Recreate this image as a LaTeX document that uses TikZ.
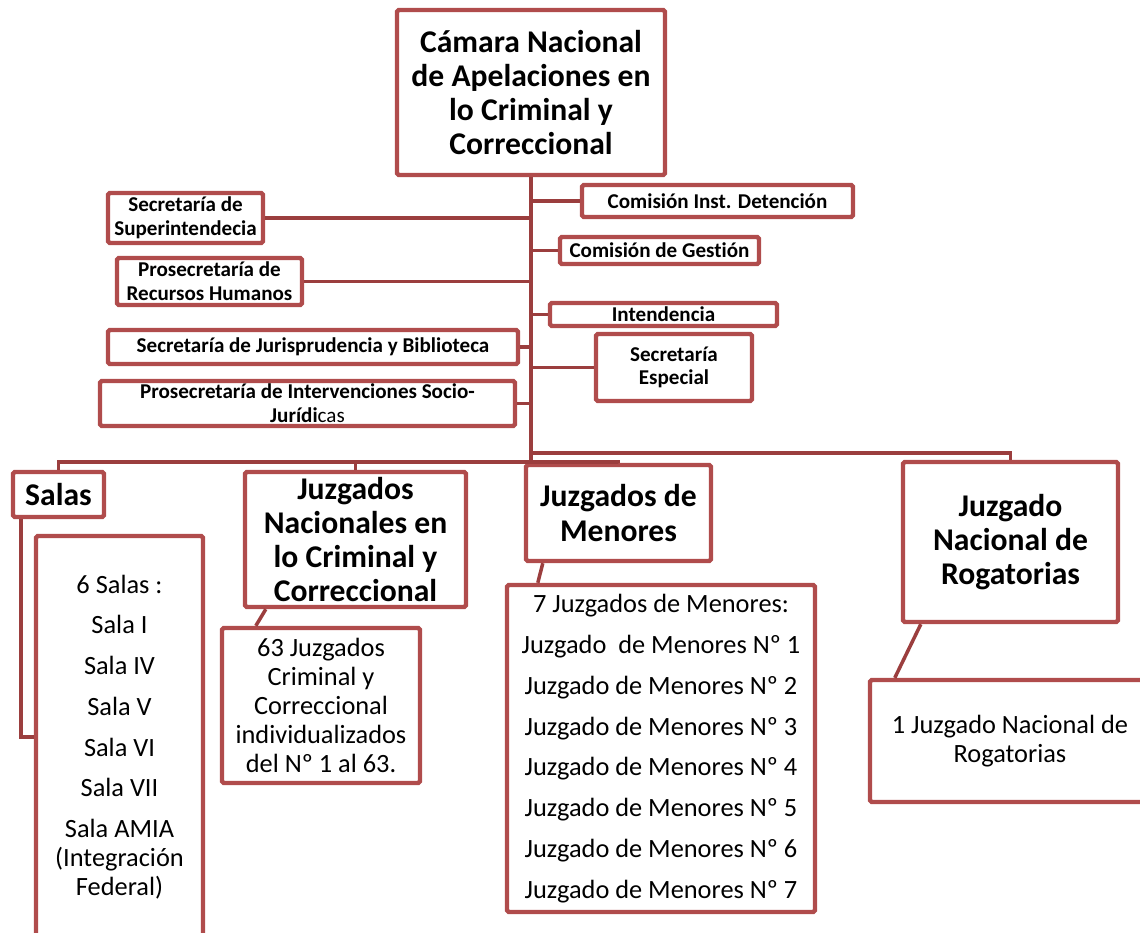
\documentclass[tikz,border=0pt]{standalone}
\usepackage{fontspec}
\setmainfont[Ligatures=NoCommon]{Carlito}
\definecolor{rojocaja}{RGB}{176,76,76}
\definecolor{rojolinea}{RGB}{155,62,62}
\newlength\pxu
\setlength\pxu{0.02cm}

\begin{document}
\begin{tikzpicture}[x=0.02cm, y=-0.02cm,
  caja/.style 2 args={draw=rojocaja, line width=2.5pt, rounded corners=1pt, fill=white, align=center, inner sep=0pt, minimum width=#1\pxu, minimum height=#2\pxu},
  linea/.style={draw=rojolinea, line width=2pt},
  grande/.style={font=\fontsize{18}{19.5}\selectfont\bfseries},
  chica/.style={font=\fontsize{12}{13.5}\selectfont\bfseries},
  lista/.style={font=\fontsize{15}{16.5}\selectfont}]
\useasboundingbox (0,0) rectangle (1140,933);

%\draw [lightgray](0,0) grid[step=100] (1140,933);
\node [caja={268}{165}, grande] (camara) at (531, 92.5){Cámara Nacional\\de Apelaciones en\\lo Criminal y\\Correccional};

% izquierda
\node [caja={155}{50}, chica] (superint) at (185.5, 218){Secretaría de\\Superintendecia};
\node [caja={185}{47}, chica] (rrhh) at (209.5, 281.5){Prosecretaría de\\Recursos Humanos};
\node [caja={410}{34}, chica] (juris) at (313, 347){Secretaría de Jurisprudencia y Biblioteca};
\node [caja={415}{45}, chica] (socio) at (307.5, 403.5){Prosecretaría de Intervenciones Socio-\\Jurídi{\mdseries cas}};

% derecha
\node [caja={271}{32}, chica] (detencion) at (717.5, 201){Comisión Inst. Detención};
\node [caja={199}{27}, chica] (gestion) at (659.5, 250.5){Comisión de Gestión};
\node [caja={227}{23}, chica] (intend) at (663.5, 314.5){Intendencia};
\node [caja={156}{67}, chica] (especial) at (674, 367.5){Secretaría\\Especial};

% abajo
\node [caja={91}{45}, grande] (salas) at (58.5, 494.5){Salas};
\node [caja={167}{402}, lista] (salaslist) at (119.5, 737){6 Salas :\\[6.7pt]Sala I\\[6.7pt]Sala IV\\[6.7pt]Sala V\\[6.7pt]Sala VI\\[6.7pt]Sala VII\\[6.7pt]Sala AMIA\\(Integración\\Federal)};
\node [caja={221}{135}, grande] (juznac) at (355.5, 539.5){Juzgados\\Nacionales en\\lo Criminal y\\Correccional};
\node [caja={198}{155}, lista] (juznaclist) at (321, 705.5){63 Juzgados\\Criminal y\\Correccional\\individualizados\\del Nº 1 al 63.};
\node [caja={185}{96}, grande] (menores) at (618.5, 513){Juzgados de\\Menores};
\node [caja={308}{327}, lista] (menlist) at (661, 748.5){7 Juzgados de Menores:\\[6.7pt]Juzgado\ \ de Menores Nº 1\\[6.7pt]Juzgado de Menores Nº 2\\[6.7pt]Juzgado de Menores Nº 3\\[6.7pt]Juzgado de Menores Nº 4\\[6.7pt]Juzgado de Menores Nº 5\\[6.7pt]Juzgado de Menores Nº 6\\[6.7pt]Juzgado de Menores Nº 7};
\node [caja={215}{160}, grande] (rogat) at (1010.5, 542){Juzgado\\Nacional de\\Rogatorias};
\node [caja={280}{122}, lista] (rogatlist) at (1010, 741){1 Juzgado Nacional de\\Rogatorias};

\coordinate (bus1) at (0, 462);
\coordinate (bus2) at (0, 453);

% tronco y ramas
\draw [linea] (camara.south) -- (camara.south |- bus1);
\draw [linea] (superint.east) -- (superint.east -| camara.south);
\draw [linea] (rrhh.east) -- (rrhh.east -| camara.south);
\draw [linea] (juris.east) -- (juris.east -| camara.south);
\draw [linea] (socio.east) -- (socio.east -| camara.south);
\draw [linea] (detencion.west) -- (detencion.west -| camara.south);
\draw [linea] (gestion.west) -- (gestion.west -| camara.south);
\draw [linea] (intend.west) -- (intend.west -| camara.south);
\draw [linea] (especial.west) -- (especial.west -| camara.south);

\draw [linea] (salas.north) -- (salas.north |- bus1) -| (menores.north);
\draw [linea] (juznac.north) -- (juznac.north |- bus1);
\draw [linea] (camara.south |- bus2) -| (rogat.north);

\draw [linea] ([xshift=10\pxu]salas.south west) |- (salaslist.west);
\draw [linea] ([xshift=23\pxu]juznac.south west) -- ([xshift=36\pxu]juznaclist.north west);
\draw [linea] ([xshift=19\pxu]menores.south west) -- ([xshift=33\pxu]menlist.north west);
\draw [linea] ([xshift=20\pxu]rogat.south west) -- ([xshift=27\pxu]rogatlist.north west);
\end{tikzpicture}
\end{document}
